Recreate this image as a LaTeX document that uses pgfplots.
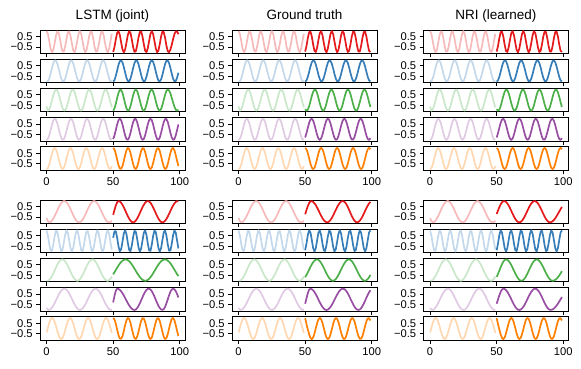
\documentclass[border=0pt]{standalone}
\usepackage{fontspec}
\setmainfont{Liberation Sans}
\usepackage{pgfplots}
\usepackage{pgfplotstable}
\pgfplotsset{compat=1.18}
\definecolor{cR}{HTML}{E41A1C}
\definecolor{cB}{HTML}{377EB8}
\definecolor{cG}{HTML}{4DAF4A}
\definecolor{cP}{HTML}{984EA3}
\definecolor{cO}{HTML}{FF7F00}
% ---------- faded inputs, t = 0..49 ----------
\pgfplotstableread[row sep=\\]{y\\1.00\\0.73\\0.06\\-0.64\\-0.99\\-0.81\\-0.19\\0.54\\0.97\\0.87\\0.31\\-0.43\\-0.93\\-0.93\\-0.42\\0.31\\0.88\\0.97\\0.53\\-0.19\\-0.81\\-0.99\\-0.63\\0.07\\0.73\\1.00\\0.72\\0.05\\-0.65\\-0.99\\-0.80\\-0.18\\0.54\\0.97\\0.87\\0.30\\-0.44\\-0.93\\-0.92\\-0.41\\0.32\\0.88\\0.97\\0.52\\-0.20\\-0.82\\-0.99\\-0.63\\0.08\\0.74\\}\FadeA
\pgfplotstableread[row sep=\\]{y\\-0.97\\-0.97\\-0.71\\-0.26\\0.26\\0.71\\0.97\\0.97\\0.71\\0.26\\-0.26\\-0.71\\-0.97\\-0.97\\-0.71\\-0.26\\0.26\\0.71\\0.97\\0.97\\0.71\\0.26\\-0.26\\-0.71\\-0.97\\-0.97\\-0.71\\-0.26\\0.26\\0.71\\0.97\\0.97\\0.71\\0.26\\-0.26\\-0.71\\-0.97\\-0.97\\-0.71\\-0.26\\0.26\\0.71\\0.97\\0.97\\0.71\\0.26\\-0.26\\-0.71\\-0.97\\-0.97\\}\FadeB
\pgfplotstableread[row sep=\\]{y\\-0.60\\-1.00\\-0.87\\-0.53\\-0.05\\0.44\\0.82\\0.99\\0.92\\0.61\\0.15\\-0.35\\-0.76\\-0.98\\-0.95\\-0.69\\-0.25\\0.25\\0.69\\0.95\\0.98\\0.76\\0.35\\-0.15\\-0.61\\-0.92\\-0.99\\-0.82\\-0.44\\0.05\\0.53\\0.87\\1.00\\0.87\\0.53\\0.05\\-0.44\\-0.82\\-0.99\\-0.92\\-0.61\\-0.15\\0.35\\0.76\\0.98\\0.95\\0.69\\0.25\\-0.25\\-0.69\\}\FadeC
\pgfplotstableread[row sep=\\]{y\\-1.00\\-0.90\\-0.57\\-0.09\\0.41\\0.81\\0.99\\0.91\\0.59\\0.12\\-0.39\\-0.80\\-0.99\\-0.93\\-0.61\\-0.14\\0.37\\0.78\\0.99\\0.93\\0.64\\0.17\\-0.34\\-0.76\\-0.98\\-0.94\\-0.65\\-0.19\\0.32\\0.75\\0.98\\0.95\\0.67\\0.22\\-0.29\\-0.73\\-0.97\\-0.96\\-0.69\\-0.25\\0.27\\0.71\\0.97\\0.97\\0.71\\0.27\\-0.24\\-0.69\\-0.96\\-0.97\\}\FadeD
\pgfplotstableread[row sep=\\]{y\\-1.00\\-0.91\\-0.57\\-0.07\\0.44\\0.83\\1.00\\0.89\\0.53\\0.03\\-0.48\\-0.86\\-1.00\\-0.87\\-0.50\\0.01\\0.51\\0.88\\1.00\\0.85\\0.46\\-0.05\\-0.54\\-0.89\\-1.00\\-0.83\\-0.43\\0.09\\0.58\\0.91\\0.99\\0.80\\0.39\\-0.13\\-0.61\\-0.93\\-0.99\\-0.78\\-0.36\\0.17\\0.64\\0.94\\0.98\\0.75\\0.32\\-0.20\\-0.67\\-0.95\\-0.97\\-0.73\\}\FadeE
\pgfplotstableread[row sep=\\]{y\\-0.62\\-0.88\\-0.99\\-0.97\\-0.84\\-0.66\\-0.43\\-0.16\\0.12\\0.39\\0.63\\0.82\\0.94\\1.00\\0.98\\0.88\\0.71\\0.49\\0.23\\-0.05\\-0.32\\-0.57\\-0.78\\-0.92\\-0.99\\-0.99\\-0.91\\-0.76\\-0.55\\-0.30\\-0.02\\0.26\\0.51\\0.73\\0.89\\0.98\\1.00\\0.93\\0.80\\0.60\\0.36\\0.09\\-0.19\\-0.45\\-0.68\\-0.86\\-0.97\\-1.00\\-0.96\\-0.84\\}\FadeF
\pgfplotstableread[row sep=\\]{y\\0.97\\0.49\\-0.30\\-0.90\\-0.93\\-0.38\\0.41\\0.95\\0.88\\0.26\\-0.52\\-0.98\\-0.82\\-0.14\\0.62\\1.00\\0.74\\0.02\\-0.71\\-1.00\\-0.66\\0.10\\0.79\\0.99\\0.56\\-0.22\\-0.86\\-0.96\\-0.45\\0.34\\0.92\\0.92\\0.34\\-0.45\\-0.96\\-0.86\\-0.22\\0.56\\0.99\\0.80\\0.10\\-0.65\\-1.00\\-0.72\\0.02\\0.74\\1.00\\0.63\\-0.14\\-0.82\\}\FadeG
\pgfplotstableread[row sep=\\]{y\\-0.99\\-0.99\\-0.91\\-0.77\\-0.56\\-0.32\\-0.04\\0.23\\0.49\\0.71\\0.88\\0.98\\1.00\\0.94\\0.82\\0.63\\0.39\\0.13\\-0.15\\-0.42\\-0.65\\-0.83\\-0.95\\-1.00\\-0.97\\-0.86\\-0.69\\-0.47\\-0.21\\0.07\\0.34\\0.59\\0.79\\0.93\\0.99\\0.99\\0.90\\0.75\\0.54\\0.29\\0.01\\-0.26\\-0.52\\-0.73\\-0.89\\-0.98\\-1.00\\-0.94\\-0.80\\-0.61\\}\FadeH
\pgfplotstableread[row sep=\\]{y\\-0.82\\-0.97\\-0.99\\-0.93\\-0.79\\-0.60\\-0.37\\-0.11\\0.15\\0.41\\0.64\\0.82\\0.94\\1.00\\0.98\\0.90\\0.75\\0.55\\0.31\\0.05\\-0.22\\-0.47\\-0.69\\-0.85\\-0.96\\-1.00\\-0.97\\-0.87\\-0.70\\-0.49\\-0.25\\0.02\\0.28\\0.53\\0.73\\0.89\\0.98\\1.00\\0.95\\0.83\\0.66\\0.43\\0.18\\-0.09\\-0.35\\-0.58\\-0.78\\-0.92\\-0.99\\-0.99\\}\FadeI
\pgfplotstableread[row sep=\\]{y\\-0.37\\0.08\\0.52\\0.85\\1.00\\0.93\\0.67\\0.26\\-0.20\\-0.62\\-0.90\\-1.00\\-0.88\\-0.58\\-0.15\\0.31\\0.70\\0.95\\0.99\\0.82\\0.48\\0.03\\-0.42\\-0.78\\-0.98\\-0.97\\-0.75\\-0.37\\0.08\\0.52\\0.85\\1.00\\0.93\\0.67\\0.26\\-0.20\\-0.62\\-0.90\\-1.00\\-0.88\\-0.58\\-0.15\\0.31\\0.70\\0.95\\0.99\\0.82\\0.48\\0.03\\-0.42\\}\FadeJ
% ---------- ground truth, t = 50..99 ----------
\pgfplotstableread[row sep=\\]{y\\-0.93\\-0.41\\0.34\\0.90\\0.95\\0.48\\-0.27\\-0.86\\-0.97\\-0.54\\0.19\\0.82\\0.99\\0.61\\-0.11\\-0.77\\-1.00\\-0.66\\0.04\\0.72\\1.00\\0.72\\0.04\\-0.66\\-1.00\\-0.77\\-0.11\\0.61\\0.99\\0.82\\0.19\\-0.54\\-0.97\\-0.86\\-0.27\\0.48\\0.95\\0.90\\0.34\\-0.41\\-0.93\\-0.93\\-0.41\\0.34\\0.90\\0.95\\0.48\\-0.26\\-0.86\\-0.97\\}\GtA
\pgfplotstableread[row sep=\\]{y\\-1.00\\-0.89\\-0.56\\-0.08\\0.42\\0.82\\0.99\\0.92\\0.60\\0.13\\-0.38\\-0.78\\-0.99\\-0.94\\-0.64\\-0.18\\0.33\\0.75\\0.98\\0.95\\0.68\\0.23\\-0.28\\-0.72\\-0.97\\-0.97\\-0.72\\-0.28\\0.23\\0.68\\0.95\\0.98\\0.75\\0.33\\-0.18\\-0.64\\-0.94\\-0.99\\-0.78\\-0.38\\0.13\\0.60\\0.92\\0.99\\0.81\\0.42\\-0.08\\-0.56\\-0.89\\-1.00\\}\GtB
\pgfplotstableread[row sep=\\]{y\\-0.85\\-1.00\\-0.90\\-0.57\\-0.10\\0.39\\0.79\\0.99\\0.94\\0.65\\0.20\\-0.30\\-0.72\\-0.97\\-0.97\\-0.73\\-0.30\\0.20\\0.65\\0.94\\0.99\\0.79\\0.40\\-0.10\\-0.57\\-0.90\\-1.00\\-0.85\\-0.49\\0.00\\0.48\\0.85\\1.00\\0.90\\0.57\\0.10\\-0.39\\-0.79\\-0.99\\-0.94\\-0.65\\-0.20\\0.30\\0.72\\0.97\\0.97\\0.73\\0.30\\-0.20\\-0.65\\}\GtC
\pgfplotstableread[row sep=\\]{y\\-0.77\\-0.36\\0.14\\0.61\\0.92\\0.99\\0.82\\0.43\\-0.06\\-0.54\\-0.88\\-1.00\\-0.86\\-0.50\\-0.01\\0.48\\0.85\\1.00\\0.90\\0.56\\0.09\\-0.41\\-0.80\\-0.99\\-0.93\\-0.63\\-0.17\\0.34\\0.76\\0.98\\0.95\\0.68\\0.24\\-0.27\\-0.70\\-0.96\\-0.97\\-0.74\\-0.31\\0.19\\0.65\\0.94\\0.99\\0.79\\0.38\\-0.11\\-0.59\\-0.91\\-1.00\\-0.83\\}\GtD
\pgfplotstableread[row sep=\\]{y\\1.00\\0.87\\0.50\\0.00\\-0.50\\-0.87\\-1.00\\-0.87\\-0.50\\0.00\\0.50\\0.87\\1.00\\0.87\\0.50\\0.00\\-0.50\\-0.87\\-1.00\\-0.87\\-0.50\\0.00\\0.50\\0.87\\1.00\\0.87\\0.50\\0.00\\-0.50\\-0.87\\-1.00\\-0.87\\-0.50\\0.00\\0.50\\0.87\\1.00\\0.87\\0.50\\0.00\\-0.50\\-0.87\\-1.00\\-0.87\\-0.50\\0.00\\0.50\\0.87\\1.00\\0.87\\}\GtE
\pgfplotstableread[row sep=\\]{y\\-0.24\\0.16\\0.53\\0.82\\0.98\\0.99\\0.92\\0.79\\0.61\\0.38\\0.13\\-0.13\\-0.38\\-0.61\\-0.79\\-0.92\\-0.99\\-0.99\\-0.92\\-0.78\\-0.59\\-0.36\\-0.09\\0.17\\0.43\\0.65\\0.83\\0.95\\1.00\\0.97\\0.87\\0.69\\0.45\\0.17\\-0.12\\-0.40\\-0.64\\-0.84\\-0.96\\-1.00\\-0.96\\-0.85\\-0.68\\-0.46\\-0.20\\0.07\\0.34\\0.58\\0.78\\0.92\\}\GtF
\pgfplotstableread[row sep=\\]{y\\-0.88\\-0.25\\0.55\\0.99\\0.79\\0.08\\-0.68\\-1.00\\-0.68\\0.08\\0.79\\0.99\\0.55\\-0.25\\-0.88\\-0.95\\-0.40\\0.40\\0.95\\0.88\\0.25\\-0.55\\-0.99\\-0.79\\-0.08\\0.68\\1.00\\0.68\\-0.08\\-0.79\\-0.99\\-0.55\\0.25\\0.88\\0.95\\0.40\\-0.40\\-0.95\\-0.88\\-0.25\\0.55\\0.99\\0.79\\0.08\\-0.68\\-1.00\\-0.68\\0.08\\0.79\\0.99\\}\GtG
\pgfplotstableread[row sep=\\]{y\\-0.67\\-0.45\\-0.21\\0.05\\0.31\\0.54\\0.74\\0.89\\0.98\\1.00\\0.95\\0.84\\0.67\\0.45\\0.21\\-0.05\\-0.31\\-0.54\\-0.74\\-0.89\\-0.98\\-1.00\\-0.95\\-0.84\\-0.67\\-0.45\\-0.21\\0.05\\0.31\\0.54\\0.74\\0.89\\0.98\\1.00\\0.95\\0.84\\0.67\\0.45\\0.21\\-0.05\\-0.31\\-0.54\\-0.74\\-0.89\\-0.98\\-1.00\\-0.95\\-0.84\\-0.67\\-0.45\\}\GtH
\pgfplotstableread[row sep=\\]{y\\-0.41\\0.10\\0.59\\0.91\\1.00\\0.95\\0.84\\0.68\\0.47\\0.23\\-0.03\\-0.28\\-0.52\\-0.72\\-0.87\\-0.97\\-1.00\\-0.97\\-0.87\\-0.72\\-0.53\\-0.30\\-0.05\\0.20\\0.44\\0.65\\0.82\\0.94\\0.99\\0.99\\0.91\\0.76\\0.56\\0.32\\0.05\\-0.21\\-0.47\\-0.69\\-0.86\\-0.96\\-1.00\\-0.96\\-0.84\\-0.65\\-0.41\\-0.14\\0.15\\0.42\\0.66\\0.85\\}\GtI
\pgfplotstableread[row sep=\\]{y\\0.97\\0.42\\-0.08\\-0.56\\-0.89\\-1.00\\-0.84\\-0.47\\0.03\\0.52\\0.87\\1.00\\0.87\\0.52\\0.03\\-0.47\\-0.84\\-1.00\\-0.89\\-0.56\\-0.08\\0.42\\0.82\\0.99\\0.92\\0.60\\0.13\\-0.38\\-0.78\\-0.99\\-0.94\\-0.64\\-0.18\\0.33\\0.75\\0.98\\0.95\\0.68\\0.23\\-0.28\\-0.72\\-0.97\\-0.97\\-0.72\\-0.28\\0.23\\0.68\\0.95\\0.98\\0.75\\}\GtJ
% ---------- LSTM predictions, t = 50..99 ----------
\pgfplotstableread[row sep=\\]{y\\-0.96\\-0.50\\0.22\\0.83\\0.99\\0.62\\-0.07\\-0.73\\-1.00\\-0.73\\-0.07\\0.62\\0.99\\0.83\\0.22\\-0.50\\-0.96\\-0.90\\-0.36\\0.37\\0.90\\0.96\\0.50\\-0.22\\-0.83\\-0.99\\-0.62\\0.08\\0.73\\1.00\\0.73\\0.07\\-0.62\\-0.99\\-0.83\\-0.22\\0.50\\0.96\\0.90\\0.36\\-0.37\\-0.90\\-0.98\\-0.74\\-0.29\\0.24\\0.70\\0.96\\0.97\\0.70\\}\LsA
\pgfplotstableread[row sep=\\]{y\\-1.00\\-0.86\\-0.47\\0.05\\0.56\\0.91\\0.99\\0.80\\0.37\\-0.16\\-0.65\\-0.95\\-0.98\\-0.73\\-0.27\\0.27\\0.73\\0.98\\0.95\\0.65\\0.16\\-0.37\\-0.80\\-0.99\\-0.91\\-0.56\\-0.06\\0.47\\0.86\\1.00\\0.86\\0.47\\-0.05\\-0.56\\-0.91\\-0.99\\-0.80\\-0.37\\0.16\\0.65\\0.95\\0.98\\0.73\\0.27\\-0.27\\-0.72\\-0.98\\-0.95\\-0.65\\-0.17\\}\LsB
\pgfplotstableread[row sep=\\]{y\\-0.99\\-0.78\\-0.34\\0.20\\0.68\\0.96\\0.96\\0.68\\0.20\\-0.34\\-0.78\\-0.99\\-0.92\\-0.58\\-0.07\\0.46\\0.85\\1.00\\0.86\\0.48\\-0.03\\-0.53\\-0.89\\-1.00\\-0.83\\-0.44\\0.08\\0.57\\0.91\\0.99\\0.82\\0.42\\-0.08\\-0.56\\-0.89\\-1.00\\-0.84\\-0.47\\0.02\\0.51\\0.87\\1.00\\0.90\\0.62\\0.22\\-0.22\\-0.62\\-0.90\\-1.00\\-0.90\\}\LsC
\pgfplotstableread[row sep=\\]{y\\-0.92\\-0.58\\-0.07\\0.46\\0.85\\1.00\\0.85\\0.46\\-0.07\\-0.58\\-0.92\\-0.99\\-0.78\\-0.34\\0.20\\0.68\\0.96\\0.96\\0.68\\0.20\\-0.33\\-0.77\\-0.99\\-0.92\\-0.58\\-0.07\\0.46\\0.85\\1.00\\0.86\\0.46\\-0.07\\-0.57\\-0.92\\-0.99\\-0.78\\-0.34\\0.20\\0.68\\0.96\\0.96\\0.68\\0.21\\-0.33\\-0.77\\-0.99\\-0.92\\-0.58\\-0.07\\0.46\\}\LsD
\pgfplotstableread[row sep=\\]{y\\1.00\\0.85\\0.43\\-0.11\\-0.62\\-0.94\\-0.97\\-0.71\\-0.22\\0.33\\0.78\\0.99\\0.90\\0.53\\0.00\\-0.53\\-0.90\\-0.99\\-0.78\\-0.33\\0.22\\0.71\\0.97\\0.94\\0.62\\0.11\\-0.43\\-0.85\\-1.00\\-0.85\\-0.43\\0.11\\0.62\\0.94\\0.97\\0.71\\0.22\\-0.33\\-0.78\\-0.99\\-0.90\\-0.53\\0.00\\0.53\\0.90\\0.99\\0.78\\0.33\\-0.22\\-0.71\\}\LsE
\pgfplotstableread[row sep=\\]{y\\-0.29\\0.17\\0.59\\0.89\\1.00\\0.96\\0.84\\0.65\\0.41\\0.14\\-0.14\\-0.41\\-0.65\\-0.84\\-0.96\\-1.00\\-0.96\\-0.84\\-0.65\\-0.41\\-0.14\\0.14\\0.41\\0.65\\0.84\\0.96\\1.00\\0.96\\0.84\\0.65\\0.41\\0.14\\-0.14\\-0.41\\-0.65\\-0.84\\-0.96\\-1.00\\-0.96\\-0.85\\-0.68\\-0.46\\-0.20\\0.07\\0.34\\0.58\\0.78\\0.92\\0.99\\0.99\\}\LsF
\pgfplotstableread[row sep=\\]{y\\0.30\\0.91\\0.91\\0.30\\-0.51\\-0.98\\-0.79\\-0.07\\0.70\\1.00\\0.63\\-0.16\\-0.84\\-0.96\\-0.44\\0.38\\0.94\\0.87\\0.22\\-0.58\\-0.99\\-0.74\\0.01\\0.75\\0.99\\0.57\\-0.24\\-0.88\\-0.94\\-0.36\\0.46\\0.97\\0.83\\0.14\\-0.65\\-1.00\\-0.68\\0.09\\0.81\\0.98\\0.50\\-0.32\\-0.92\\-0.90\\-0.28\\0.53\\0.99\\0.78\\0.05\\-0.71\\}\LsG
\pgfplotstableread[row sep=\\]{y\\-0.40\\-0.20\\0.02\\0.23\\0.43\\0.61\\0.76\\0.88\\0.96\\1.00\\0.99\\0.94\\0.84\\0.71\\0.54\\0.35\\0.14\\-0.07\\-0.28\\-0.47\\-0.65\\-0.80\\-0.91\\-0.97\\-1.00\\-0.98\\-0.92\\-0.81\\-0.67\\-0.50\\-0.30\\-0.09\\0.12\\0.33\\0.52\\0.69\\0.83\\0.93\\0.99\\1.00\\0.97\\0.89\\0.78\\0.63\\0.45\\0.25\\0.04\\-0.17\\-0.38\\-0.56\\}\LsH
\pgfplotstableread[row sep=\\]{y\\-0.29\\0.32\\0.81\\1.00\\0.97\\0.89\\0.75\\0.57\\0.36\\0.12\\-0.12\\-0.36\\-0.57\\-0.75\\-0.89\\-0.97\\-1.00\\-0.96\\-0.83\\-0.64\\-0.39\\-0.10\\0.19\\0.47\\0.70\\0.88\\0.98\\1.00\\0.92\\0.76\\0.53\\0.26\\-0.05\\-0.34\\-0.61\\-0.82\\-0.95\\-1.00\\-0.92\\-0.71\\-0.38\\0.00\\0.38\\0.71\\0.92\\1.00\\0.94\\0.77\\0.50\\0.17\\}\LsI
% ---------- NRI predictions that differ from ground truth ----------
\pgfplotstableread[row sep=\\]{y\\-0.21\\0.11\\0.42\\0.69\\0.88\\0.99\\0.99\\0.92\\0.78\\0.58\\0.34\\0.07\\-0.20\\-0.46\\-0.68\\-0.85\\-0.96\\-1.00\\-0.96\\-0.85\\-0.68\\-0.46\\-0.20\\0.07\\0.34\\0.58\\0.78\\0.92\\0.99\\0.99\\0.92\\0.78\\0.58\\0.34\\0.07\\-0.20\\-0.46\\-0.68\\-0.85\\-0.96\\-1.00\\-0.97\\-0.90\\-0.78\\-0.62\\-0.42\\-0.21\\0.02\\0.24\\0.45\\}\NrF
\pgfplotstableread[row sep=\\]{y\\-0.64\\-0.36\\-0.05\\0.27\\0.56\\0.80\\0.95\\1.00\\0.96\\0.86\\0.69\\0.47\\0.21\\-0.05\\-0.32\\-0.56\\-0.76\\-0.91\\-0.99\\-0.99\\-0.93\\-0.79\\-0.59\\-0.35\\-0.08\\0.19\\0.45\\0.68\\0.85\\0.96\\1.00\\0.97\\0.87\\0.71\\0.50\\0.26\\0.00\\-0.26\\-0.50\\-0.71\\-0.87\\-0.97\\-1.00\\-0.98\\-0.91\\-0.81\\-0.67\\-0.50\\-0.31\\-0.10\\}\NrH
\pgfplotstableread[row sep=\\]{y\\-0.41\\-0.02\\0.37\\0.70\\0.92\\1.00\\0.97\\0.87\\0.71\\0.50\\0.26\\0.00\\-0.26\\-0.50\\-0.71\\-0.87\\-0.97\\-1.00\\-0.97\\-0.87\\-0.71\\-0.50\\-0.26\\0.00\\0.26\\0.50\\0.71\\0.87\\0.97\\1.00\\0.96\\0.85\\0.68\\0.46\\0.20\\-0.07\\-0.34\\-0.58\\-0.78\\-0.92\\-0.99\\-0.99\\-0.95\\-0.87\\-0.74\\-0.59\\-0.41\\-0.21\\0.00\\0.21\\}\NrI

\pgfplotsset{
  panel/.style={
    anchor=north west, scale only axis, width=145pt, height=23.4pt,
    xmin=-4.95, xmax=103.95, ymin=-1.1, ymax=1.1,
    xtick={0,50,100}, xticklabels={}, ytick={-0.5,0.5}, yticklabels={−0.5,0.5},
    xtick pos=bottom, ytick pos=left, tick align=outside,
    major tick length=3.8pt,
    tick style={black, line width=0.8pt},
    axis line style={black, line width=0.8pt},
    tick label style={font=\fontsize{11.2}{12}\selectfont},
    every axis plot/.append style={line width=1.7pt, line join=round, no markers},
  },
  labx/.style={xticklabels={0,50,100}},
}
\newcommand{\panel}[6]{%
  \begin{axis}[panel, at={(#1pt,-#2pt)}, #6]
    \addplot[#5!30!white] table[x expr=\coordindex, y=y] {#3};
    \addplot[#5] table[x expr=\coordindex+50, y=y] {#4};
  \end{axis}}

\begin{document}
\begin{tikzpicture}
\path[use as bounding box] (0pt,0pt) rectangle (581pt,-368pt);
% LSTM column
\panel{40}{30}{\FadeA}{\LsA}{cR}{}
\panel{40}{59.2}{\FadeB}{\LsB}{cB}{}
\panel{40}{88.4}{\FadeC}{\LsC}{cG}{}
\panel{40}{117.6}{\FadeD}{\LsD}{cP}{}
\panel{40}{146.8}{\FadeE}{\LsE}{cO}{labx}
\panel{40}{200}{\FadeF}{\LsF}{cR}{}
\panel{40}{229.2}{\FadeG}{\LsG}{cB}{}
\panel{40}{258.4}{\FadeH}{\LsH}{cG}{}
\panel{40}{287.6}{\FadeI}{\LsI}{cP}{}
\panel{40}{316.8}{\FadeJ}{\LsE}{cO}{labx}
% Ground truth column
\panel{232}{30}{\FadeA}{\GtA}{cR}{}
\panel{232}{59.2}{\FadeB}{\GtB}{cB}{}
\panel{232}{88.4}{\FadeC}{\GtC}{cG}{}
\panel{232}{117.6}{\FadeD}{\GtD}{cP}{}
\panel{232}{146.8}{\FadeE}{\GtE}{cO}{labx}
\panel{232}{200}{\FadeF}{\GtF}{cR}{}
\panel{232}{229.2}{\FadeG}{\GtG}{cB}{}
\panel{232}{258.4}{\FadeH}{\GtH}{cG}{}
\panel{232}{287.6}{\FadeI}{\GtI}{cP}{}
\panel{232}{316.8}{\FadeJ}{\GtJ}{cO}{labx}
% NRI column
\panel{423.5}{30}{\FadeA}{\GtA}{cR}{}
\panel{423.5}{59.2}{\FadeB}{\GtB}{cB}{}
\panel{423.5}{88.4}{\FadeC}{\GtC}{cG}{}
\panel{423.5}{117.6}{\FadeD}{\GtD}{cP}{}
\panel{423.5}{146.8}{\FadeE}{\GtE}{cO}{labx}
\panel{423.5}{200}{\FadeF}{\NrF}{cR}{}
\panel{423.5}{229.2}{\FadeG}{\GtG}{cB}{}
\panel{423.5}{258.4}{\FadeH}{\NrH}{cG}{}
\panel{423.5}{287.6}{\FadeI}{\NrI}{cP}{}
\panel{423.5}{316.8}{\FadeJ}{\GtJ}{cO}{labx}
% titles
\node[anchor=base, font=\fontsize{13.5}{16}\selectfont] at (112.5pt,-19.5pt) {LSTM (joint)};
\node[anchor=base, font=\fontsize{13.5}{16}\selectfont] at (304.5pt,-19.5pt) {Ground truth};
\node[anchor=base, font=\fontsize{13.5}{16}\selectfont] at (496pt,-19.5pt) {NRI (learned)};
\end{tikzpicture}
\end{document}
